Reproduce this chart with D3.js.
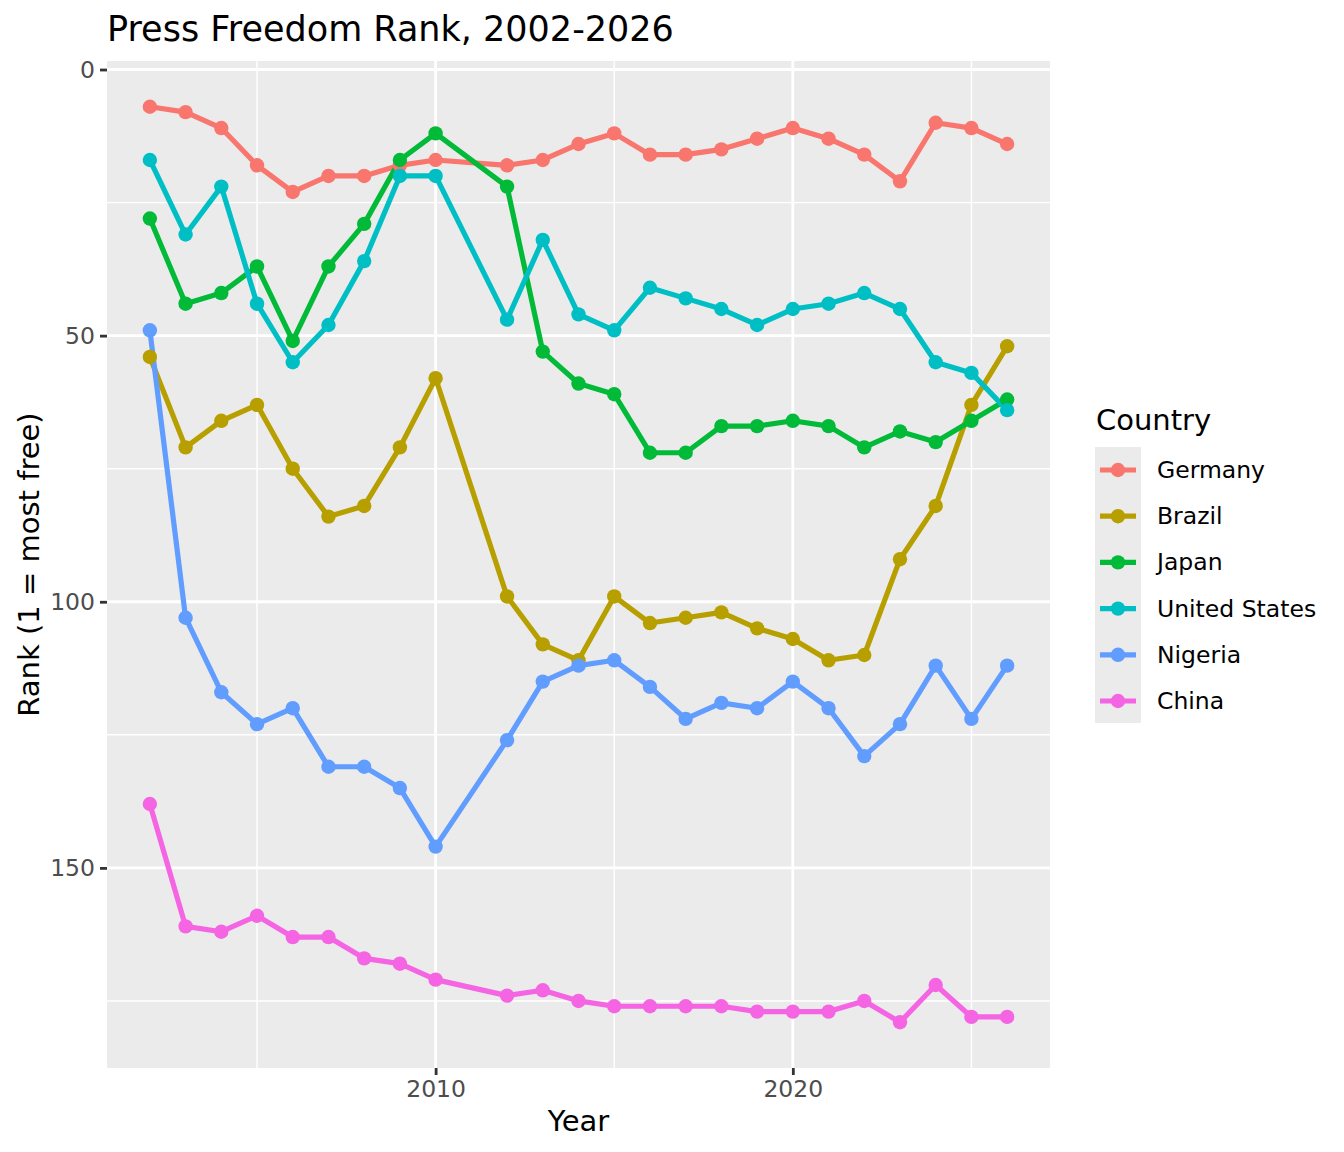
<!DOCTYPE html>
<html lang="en">
<head>
<meta charset="UTF-8">
<title>Press Freedom Rank</title>
<script src="https://d3js.org/d3.v7.min.js"></script>
<style>
  body { margin: 0; background: white; }
  svg { display: block; font-family: "DejaVu Sans", sans-serif; }
</style>
</head>
<body>
<svg id="chart" width="1344" height="1152"></svg>
<script>
// years in the data (2011 is not in the series)
const years = [2002, 2003, 2004, 2005, 2006, 2007, 2008, 2009, 2010,
               2012, 2013, 2014, 2015, 2016, 2017, 2018, 2019, 2020,
               2021, 2022, 2023, 2024, 2025, 2026];

const countries = ["Germany", "Brazil", "Japan", "United States", "Nigeria", "China"];

const germany = [7, 8, 11, 18, 23, 20, 20, 18, 17, 18, 17, 14, 12, 16, 16, 15, 13, 11, 13, 16, 21, 10, 11, 14];
const brazil  = [54, 71, 66, 63, 75, 84, 82, 71, 58, 99, 108, 111, 99, 104, 103, 102, 105, 107, 111, 110, 92, 82, 63, 52];
const japan   = [28, 44, 42, 37, 51, 37, 29, 17, 12, 22, 53, 59, 61, 72, 72, 67, 67, 66, 67, 71, 68, 70, 66, 62];
const usa     = [17, 31, 22, 44, 55, 48, 36, 20, 20, 47, 32, 46, 49, 41, 43, 45, 48, 45, 44, 42, 45, 55, 57, 64];
const nigeria = [49, 103, 117, 123, 120, 131, 131, 135, 146, 126, 115, 112, 111, 116, 122, 119, 120, 115, 120, 129, 123, 112, 122, 112];
const china   = [138, 161, 162, 159, 163, 163, 167, 168, 171, 174, 173, 175, 176, 176, 176, 176, 177, 177, 177, 175, 179, 172, 178, 178];

const rankSeries = [germany, brazil, japan, usa, nigeria, china];
const colours = ["#F8766D", "#B79F00", "#00BA38", "#00BFC4", "#619CFF", "#F564E3"];

const yBreaks = [0, 50, 100, 150];
const yMinor = [25, 75, 125, 175];
const xBreaks = [2010, 2020];
const xMinor = [2005, 2015, 2025];

const series = countries.map((name, i) => ({
  name: name,
  colour: colours[i],
  values: years.map((yr, j) => ({ year: yr, rank: rankSeries[i][j] }))
}));

const svg = d3.select("#chart");
const panel = { left: 107, right: 1050, top: 61, bottom: 1068 };

// ggplot style 5% expansion
const allRanks = rankSeries.flat();
const rMin = d3.min(allRanks), rMax = d3.max(allRanks);
const rPad = (rMax - rMin) * 0.05;
const yPad = (d3.max(years) - d3.min(years)) * 0.05;

const x = d3.scaleLinear()
  .domain([d3.min(years) - yPad, d3.max(years) + yPad])
  .range([panel.left, panel.right]);
const y = d3.scaleLinear()
  .domain([rMin - rPad, rMax + rPad])
  .range([panel.top, panel.bottom]);

// panel background
svg.append("rect")
  .attr("x", panel.left).attr("y", panel.top)
  .attr("width", panel.right - panel.left)
  .attr("height", panel.bottom - panel.top)
  .attr("fill", "#EBEBEB");

const grid = svg.append("g");
grid.selectAll(".ymin").data(yMinor).enter().append("line")
  .attr("x1", panel.left).attr("x2", panel.right)
  .attr("y1", d => y(d)).attr("y2", d => y(d))
  .attr("stroke", "white").attr("stroke-width", 1.4);
grid.selectAll(".xmin").data(xMinor).enter().append("line")
  .attr("y1", panel.top).attr("y2", panel.bottom)
  .attr("x1", d => x(d)).attr("x2", d => x(d))
  .attr("stroke", "white").attr("stroke-width", 1.4);
grid.selectAll(".ymaj").data(yBreaks).enter().append("line")
  .attr("x1", panel.left).attr("x2", panel.right)
  .attr("y1", d => y(d)).attr("y2", d => y(d))
  .attr("stroke", "white").attr("stroke-width", 2.8);
grid.selectAll(".xmaj").data(xBreaks).enter().append("line")
  .attr("y1", panel.top).attr("y2", panel.bottom)
  .attr("x1", d => x(d)).attr("x2", d => x(d))
  .attr("stroke", "white").attr("stroke-width", 2.8);

// axes
const yAxis = svg.append("g")
  .attr("transform", `translate(${panel.left},0)`)
  .call(d3.axisLeft(y).tickValues(yBreaks).tickSize(7).tickPadding(5));
const xAxis = svg.append("g")
  .attr("transform", `translate(0,${panel.bottom})`)
  .call(d3.axisBottom(x).tickValues(xBreaks).tickFormat(d3.format("d")).tickSize(7).tickPadding(5));
[yAxis, xAxis].forEach(a => {
  a.select(".domain").remove();
  a.selectAll(".tick line").attr("stroke", "#333333").attr("stroke-width", 2.8);
  a.selectAll(".tick text")
    .attr("fill", "#4D4D4D")
    .style("font-size", "23.5px")
    .style("font-family", "DejaVu Sans, sans-serif");
});

// lines then points
const line = d3.line().x(d => x(d.year)).y(d => y(d.rank));
svg.append("g").selectAll("path").data(series).enter().append("path")
  .attr("d", d => line(d.values))
  .attr("fill", "none")
  .attr("stroke", d => d.colour)
  .attr("stroke-width", 5.2)
  .attr("stroke-linejoin", "round");

svg.append("g").selectAll("g").data(series).enter().append("g")
  .attr("fill", d => d.colour)
  .selectAll("circle").data(d => d.values).enter().append("circle")
  .attr("cx", d => x(d.year))
  .attr("cy", d => y(d.rank))
  .attr("r", 7.2);

// titles
svg.append("text")
  .attr("x", panel.left).attr("y", 41)
  .style("font-size", "35px")
  .text("Press Freedom Rank, 2002-2026");

svg.append("text")
  .attr("x", (panel.left + panel.right) / 2).attr("y", 1131)
  .attr("text-anchor", "middle")
  .style("font-size", "29px")
  .text("Year");

svg.append("text")
  .attr("transform", `translate(39,${(panel.top + panel.bottom) / 2}) rotate(-90)`)
  .attr("text-anchor", "middle")
  .style("font-size", "29px")
  .text("Rank (1 = most free)");

// legend
const legend = svg.append("g").attr("transform", "translate(1095,0)");
legend.append("text")
  .attr("x", 1).attr("y", 430)
  .style("font-size", "29px")
  .text("Country");
legend.append("rect")
  .attr("x", 0).attr("y", 447)
  .attr("width", 46).attr("height", 276)
  .attr("fill", "#EBEBEB");
const keys = legend.selectAll(".key").data(series).enter().append("g")
  .attr("transform", (d, i) => `translate(0,${470 + i * 46.2})`);
keys.append("line")
  .attr("x1", 5).attr("x2", 41)
  .attr("stroke", d => d.colour).attr("stroke-width", 5.2);
keys.append("circle")
  .attr("cx", 23).attr("r", 7.2)
  .attr("fill", d => d.colour);
keys.append("text")
  .attr("x", 62).attr("y", 8)
  .style("font-size", "23.5px")
  .text(d => d.name);
</script>
</body>
</html>
